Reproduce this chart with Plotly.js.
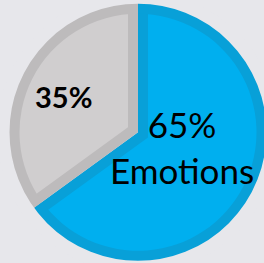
<!DOCTYPE html>
<html>
<head>
<meta charset="utf-8">
<script src="https://cdn.plot.ly/plotly-3.0.1.min.js"></script>
<style>
  html, body { margin: 0; padding: 0; width: 264px; height: 263px; overflow: hidden; background: #E7E7EB; }
  #chart { position: absolute; left: -30px; top: -30px; }
</style>
</head>
<body>
<div id="chart"></div>
<script>
// ---- data ----
const categories = ['Emotions', 'Other'];
const values = [65, 35];
const shownNames = ['Emotions', ''];
const fillColors = ['#00AFEF', '#D0CECF'];
const borderColors = ['#08A0D8', '#BDBBBC'];
const bgColor = '#E7E7EB';

// ---- geometry (layout pixels) ----
const W = 340, H = 330;
const CX = 168, CY = 162.3;   // pie centre
const R = 128.5;              // outer radius
const BORDER = 10;            // inset border thickness

function dom(r) {
  return { x: [(CX - r) / W, (CX + r) / W], y: [(H - CY - r) / H, (H - CY + r) / H] };
}

const total = values.reduce((a, b) => a + b, 0);
const shares = values.map(v => v / total);
// inset each wedge by BORDER: shift apex along bisector
const half = Math.PI * shares[1];
const shift = BORDER / Math.sin(half);
const r2 = 125;
const pull = shift / r2;

const common = {
  type: 'pie', labels: categories, values: values, sort: false,
  direction: 'clockwise', rotation: 0, textinfo: 'none', hoverinfo: 'skip',
  showlegend: false
};

const traces = [
  Object.assign({}, common, { domain: dom(R), marker: { colors: borderColors, line: { width: 0 } } }),
  Object.assign({}, common, { domain: dom(r2 * (1 + pull)), pull: values.map(() => pull),
    marker: { colors: fillColors, line: { width: 0 } } }),
  Object.assign({}, common, { domain: dom(R + 1), hole: (R - BORDER) / (R + 1),
    marker: { colors: borderColors, line: { width: 0 } } })
];

const pctText = values.map(v => Math.round(v / total * 100) + '%');
const rc = (R + 141) / 2;

const layout = {
  width: W, height: H,
  margin: { l: 0, r: 0, t: 0, b: 0 },
  paper_bgcolor: bgColor, plot_bgcolor: bgColor,
  showlegend: false,
  shapes: [{
    type: 'circle', xref: 'paper', yref: 'paper', layer: 'above',
    x0: (CX - rc) / W, x1: (CX + rc) / W, y0: (H - CY - rc) / H, y1: (H - CY + rc) / H,
    line: { color: bgColor, width: 141 - R }, fillcolor: 'rgba(0,0,0,0)'
  }],
  annotations: [
    { xref: 'paper', yref: 'paper', x: (182 + 30) / W, y: 1 - (147 + 30) / H,
      xanchor: 'center', yanchor: 'middle', showarrow: false,
      text: pctText[0] + '<br>' + shownNames[0],
      font: { family: 'Lato', size: 35, color: '#000000' } },
    { xref: 'paper', yref: 'paper', x: (63.5 + 30) / W, y: 1 - (97 + 30) / H,
      xanchor: 'center', yanchor: 'middle', showarrow: false,
      text: '<b>' + pctText[1] + '</b>',
      font: { family: 'Lato', size: 29, color: '#000000' } }
  ]
};

Plotly.newPlot('chart', traces, layout, { staticPlot: true, displayModeBar: false });
</script>
</body>
</html>
